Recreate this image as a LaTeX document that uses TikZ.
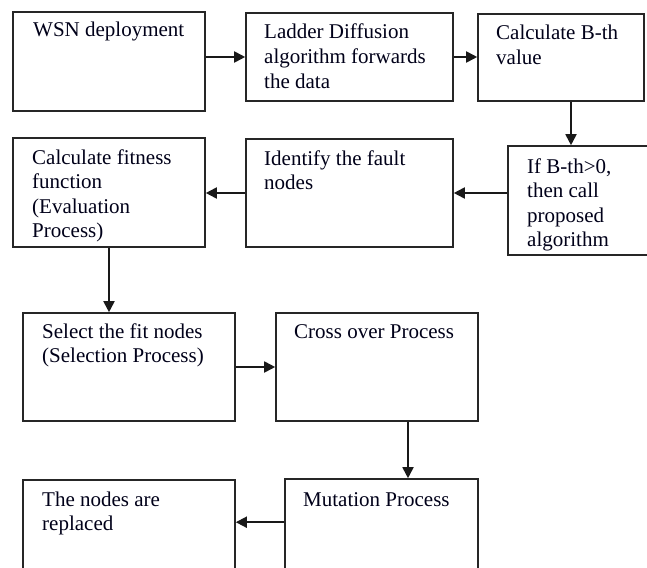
\documentclass[tikz,border=0pt]{standalone}
\usepackage{fontspec}
\setmainfont{Liberation Serif}
\usetikzlibrary{arrows.meta}
\begin{document}
\begin{tikzpicture}[x=1pt,y=-1pt,
  box/.style={draw=black!85,line width=1.6pt,rectangle,inner sep=0pt},
  txt/.style={inner sep=0pt,anchor=base west,align=left,
    font=\fontsize{21}{24.6}\selectfont,text=black!90!blue},
  arr/.style={draw=black!90,line width=1.8pt,-{Triangle[length=11pt,width=11pt]}}]
\useasboundingbox (0,0) rectangle (647,567);
\clip (0,0) rectangle (647,567);
\fill[white] (0,0) rectangle (647,567);
% boxes
\node[box,minimum width=192pt,minimum height=99pt] (wsn) at (109,61.5) {};
\node[box,minimum width=207pt,minimum height=88pt] (ladder) at (349.5,57) {};
\node[box,minimum width=166pt,minimum height=87pt] (calc) at (561,57.5) {};
\node[box,minimum width=160pt,minimum height=109pt] (ifb) at (588,200.5) {};
\node[box,minimum width=207pt,minimum height=108pt] (ident) at (349.5,193) {};
\node[box,minimum width=192pt,minimum height=109pt] (fit) at (109,192.5) {};
\node[box,minimum width=212pt,minimum height=108pt] (sel) at (129,367) {};
\node[box,minimum width=202pt,minimum height=108pt] (cross) at (377,367) {};
\node[box,minimum width=193pt,minimum height=121pt] (mut) at (381.5,539.5) {};
\node[box,minimum width=212pt,minimum height=120pt] (repl) at (129,540) {};
% texts (anchored at the baseline of the last line)
\node[txt] (t1) at (33,37) {WSN deployment};
\node[txt] (t2) at (264,88.2) {Ladder Diffusion\\algorithm forwards\\the data};
\node[txt] (t3) at (496,64.6) {Calculate B-th\\value};
\node[txt] (t4) at (527,246.8) {If B-th>0,\\then call\\proposed\\algorithm};
\node[txt] (t5) at (264,189.6) {Identify the fault\\nodes};
\node[txt] (t6) at (32,237.8) {Calculate fitness\\function\\(Evaluation\\Process)};
\node[txt] (t7) at (42,362.6) {Select the fit nodes\\(Selection Process)};
\node[txt] (t8) at (294,338) {Cross over Process};
\node[txt] (t9) at (303,506) {Mutation Process};
\node[txt] (t10) at (42,530.6) {The nodes are\\replaced};
% connectors
\draw[arr] (wsn.east |- ladder.west) -- (ladder.west);
\draw[arr] (ladder.east) -- (calc.west |- ladder.east);
\draw[arr] ([xshift=10pt]calc.south) -- ([xshift=10pt]calc.south |- ifb.north);
\draw[arr] (ifb.west |- ident.east) -- (ident.east);
\draw[arr] (ident.west) -- (fit.east |- ident.west);
\draw[arr] (fit.south) -- (fit.south |- sel.north);
\draw[arr] (sel.east) -- (cross.west);
\draw[arr] ([xshift=31pt]cross.south) -- ([xshift=31pt]cross.south |- mut.north);
\draw[arr] ([yshift=-44pt]mut.north west) -- ([yshift=-44pt]mut.north west -| repl.east);
\end{tikzpicture}
\end{document}
